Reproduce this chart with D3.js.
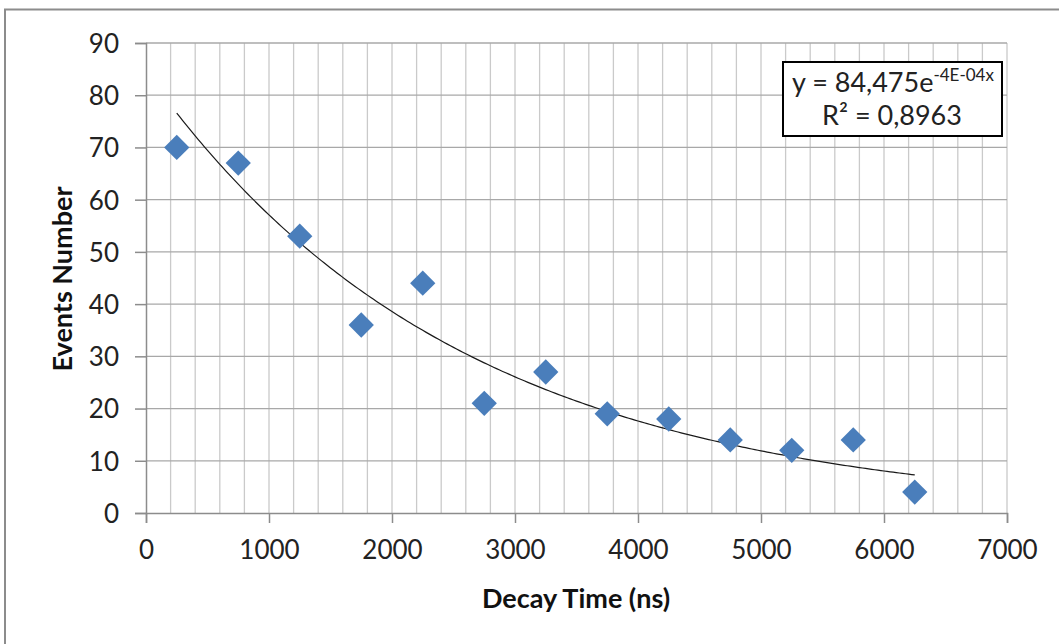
<!DOCTYPE html>
<html>
<head>
<meta charset="utf-8">
<script src="https://cdn.jsdelivr.net/npm/d3@7"></script>
<style>
  html, body { margin: 0; padding: 0; background: #fff; }
  svg { display: block; font-family: Lato, "Open Sans", sans-serif; }
</style>
</head>
<body>
<div id="chart"></div>
<script>
// Muon decay histogram: bin centres (ns) and counts, with Excel-style exponential trendline.
const decayTimes = [250, 750, 1250, 1750, 2250, 2750, 3250, 3750, 4250, 4750, 5250, 5750, 6250];
const eventCounts = [70, 67, 53, 36, 44, 21, 27, 19, 18, 14, 12, 14, 4];
const xTicks = [0, 1000, 2000, 3000, 4000, 5000, 6000, 7000];
const yTicks = [0, 10, 20, 30, 40, 50, 60, 70, 80, 90];
const equationMain = "y = 84,475e";
const equationExp = "-4E-04x";
const rSquaredLabel = "R² = 0,8963";

const width = 1059;
const height = 644;
const svg = d3.select("#chart").append("svg")
    .attr("width", width)
    .attr("height", height);

const x = d3.scaleLinear().domain([0, 7000]).range([146, 1007]);
const y = d3.scaleLinear().domain([0, 90]).range([513, 43]);

// outer chart frame (right/bottom run off the picture)
svg.append("path")
    .attr("d", `M5,${height} V9.5 H${width}`)
    .attr("fill", "none")
    .attr("stroke", "#8c8c8c")
    .attr("stroke-width", 2);

// vertical gridlines every 200 ns
const grid = svg.append("g");
grid.selectAll("line.vgrid")
    .data(d3.range(200, 7001, 200))
    .join("line")
    .attr("class", "vgrid")
    .attr("x1", d => x(d)).attr("x2", d => x(d))
    .attr("y1", y(90)).attr("y2", y(0))
    .attr("stroke", "#cacaca")
    .attr("stroke-width", 1.3);

// horizontal gridlines at every y tick
grid.selectAll("line.hgrid")
    .data(yTicks.filter(d => d > 0))
    .join("line")
    .attr("class", "hgrid")
    .attr("x1", x(0)).attr("x2", x(7000))
    .attr("y1", d => y(d)).attr("y2", d => y(d))
    .attr("stroke", "#a8a8a8")
    .attr("stroke-width", 1.3);

// axes
const yAxis = svg.append("g")
    .attr("transform", `translate(${x(0)},0)`)
    .call(d3.axisLeft(y).tickValues(yTicks).tickSize(11).tickPadding(16));
const xAxis = svg.append("g")
    .attr("transform", `translate(0,${y(0)})`)
    .call(d3.axisBottom(x).tickValues(xTicks).tickFormat(d3.format("d")).tickSize(10).tickPadding(18));

[yAxis, xAxis].forEach(axis => {
    axis.select(".domain").attr("stroke", "#8c8c8c").attr("stroke-width", 1.5);
    axis.selectAll(".tick line").attr("stroke", "#8c8c8c").attr("stroke-width", 1.5);
    axis.selectAll(".tick text")
        .attr("fill", "#222")
        .style("font-family", "Lato, 'Open Sans', sans-serif")
        .style("font-size", "26px");
});
yAxis.selectAll(".tick text").attr("dy", "0.36em");

// axis titles
svg.append("text")
    .attr("x", 576).attr("y", 608)
    .attr("text-anchor", "middle")
    .style("font-size", "27px")
    .style("font-weight", "bold")
    .attr("fill", "#111")
    .text("Decay Time (ns)");

svg.append("text")
    .attr("transform", "translate(72,279) rotate(-90)")
    .attr("text-anchor", "middle")
    .style("font-size", "27px")
    .style("font-weight", "bold")
    .attr("fill", "#111")
    .text("Events Number");

// exponential least-squares fit on ln(counts), as the spreadsheet trendline does
const logCounts = eventCounts.map(Math.log);
const meanX = d3.mean(decayTimes);
const meanLog = d3.mean(logCounts);
const slope = d3.sum(decayTimes, (t, i) => (t - meanX) * (logCounts[i] - meanLog)) /
    d3.sum(decayTimes, t => (t - meanX) ** 2);
const coefA = Math.exp(meanLog - slope * meanX);
const fitX = d3.range(decayTimes[0], decayTimes[decayTimes.length - 1] + 1, 25);

svg.append("path")
    .datum(fitX)
    .attr("fill", "none")
    .attr("stroke", "#1a1a1a")
    .attr("stroke-width", 1.2)
    .attr("d", d3.line()
        .x(t => x(t))
        .y(t => y(coefA * Math.exp(slope * t))));

// data markers
const diamond = d3.symbol().type(d3.symbolSquare).size(320);
svg.append("g")
    .selectAll("path")
    .data(decayTimes)
    .join("path")
    .attr("d", diamond)
    .attr("transform", (t, i) => `translate(${x(t)},${y(eventCounts[i])}) rotate(45)`)
    .attr("fill", "#4a7ebb");

// equation box
const legend = svg.append("g");
legend.append("rect")
    .attr("x", 783).attr("y", 62)
    .attr("width", 219).attr("height", 74)
    .attr("fill", "#fff")
    .attr("stroke", "#000")
    .attr("stroke-width", 2);

const eqText = legend.append("text")
    .attr("x", 792).attr("y", 92)
    .style("font-size", "27px")
    .attr("fill", "#222");
eqText.append("tspan").text(equationMain);
eqText.append("tspan")
    .attr("dy", -11)
    .style("font-size", "17px")
    .text(equationExp);

legend.append("text")
    .attr("x", 892).attr("y", 125)
    .attr("text-anchor", "middle")
    .style("font-size", "27px")
    .attr("fill", "#222")
    .text(rSquaredLabel);
</script>
</body>
</html>
